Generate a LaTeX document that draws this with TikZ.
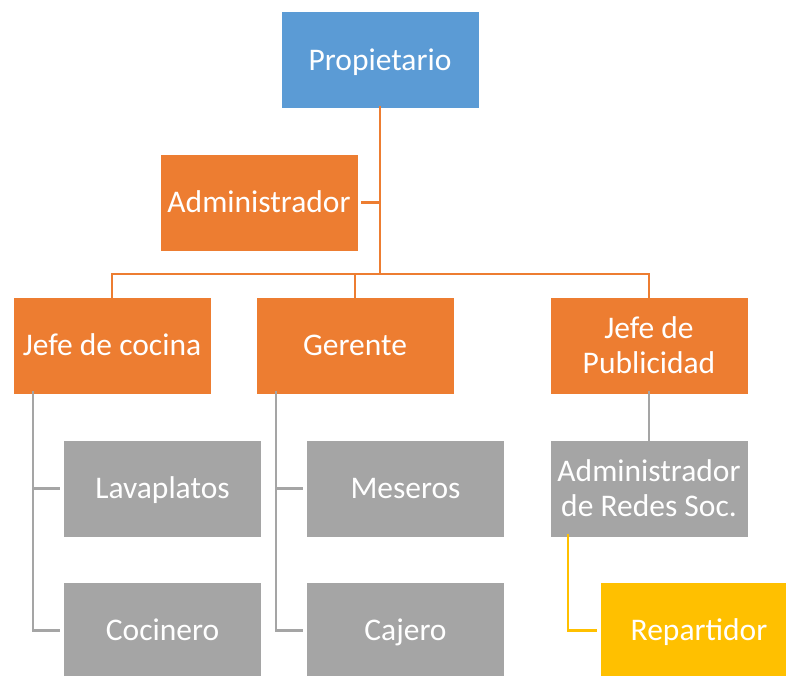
\documentclass[tikz,border=0pt]{standalone}
\usepackage{fontspec}
\setmainfont{Carlito}
\definecolor{cblue}{HTML}{5B9BD5}
\definecolor{corange}{HTML}{ED7D31}
\definecolor{cgray}{HTML}{A5A5A5}
\definecolor{cyellow}{HTML}{FFC000}
\begin{document}
\begin{tikzpicture}[x=1pt,y=-1pt,
  box/.style={draw=white,line width=0.8pt,minimum width=198pt,minimum height=97pt,inner sep=0pt,
    text=white,align=center,font=\fontsize{31.5}{35}\selectfont},
  onebox/.style={box,text height=24pt,text depth=4pt},
  oline/.style={draw=corange,line width=2.2pt},
  gline/.style={draw=cgray,line width=2.2pt},
  yline/.style={draw=cyellow,line width=2.2pt}]
\useasboundingbox (0,0) rectangle (786,675);
\clip (0,0) rectangle (786,675);
\node[onebox,fill=cblue] (prop) at (380,60) {Propietario};
\node[onebox,fill=corange] (admin) at (259,202.5) {Administrador};
\node[onebox,fill=corange] (jefe) at (112,345.5) {Jefe de cocina};
\node[onebox,fill=corange] (ger) at (355,345.5) {Gerente};
\node[box,fill=corange] (pub) at (649,345.5) {Jefe de\\Publicidad};
\node[onebox,fill=cgray] (lava) at (162.5,488.5) {Lavaplatos};
\node[onebox,fill=cgray] (coc) at (162.5,630.5) {Cocinero};
\node[onebox,fill=cgray] (mes) at (405.5,488.5) {Meseros};
\node[onebox,fill=cgray] (caj) at (405.5,630.5) {Cajero};
\node[box,fill=cgray] (redes) at (649,488.5) {Administrador\\de Redes Soc.};
\node[onebox,fill=cyellow] (rep) at (699,630.5) {Repartidor};
\coordinate (hub) at (380,274);
\draw[oline] ([yshift=3pt]prop.south) -- (hub);
\draw[oline] ([xshift=3pt]admin.east) -- (admin.east -| hub);
\draw[oline] (hub) -| ([yshift=-3pt]jefe.north);
\draw[oline] (hub) -| ([yshift=-3pt]ger.north);
\draw[oline] (hub) -| ([yshift=-3pt]pub.north);
\draw[gline] ([xshift=-79pt,yshift=3pt]jefe.south) |- ([xshift=-3pt]coc.west);
\draw[gline] ([xshift=-79pt]lava.west -| jefe.south) -- ([xshift=-3pt]lava.west);
\draw[gline] ([xshift=-79pt,yshift=3pt]ger.south) |- ([xshift=-3pt]caj.west);
\draw[gline] ([xshift=-79pt]mes.west -| ger.south) -- ([xshift=-3pt]mes.west);
\draw[gline] ([yshift=3pt]pub.south) -- ([yshift=-3pt]redes.north);
\draw[yline] ([xshift=-81pt,yshift=3pt]redes.south) |- ([xshift=-3pt]rep.west);
\end{tikzpicture}
\end{document}
